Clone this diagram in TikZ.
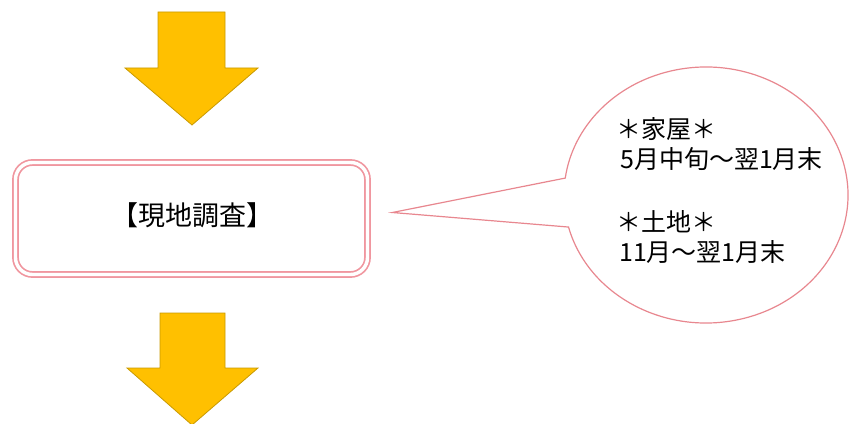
\documentclass[tikz,border=0pt]{standalone}
\usepackage{fontspec}
\setmainfont{Noto Sans CJK JP}
\usetikzlibrary{calc}
\definecolor{arrowfill}{HTML}{FFC000}
\definecolor{arrowline}{HTML}{C99A00}
\definecolor{boxpink}{HTML}{F0969F}
\definecolor{calloutpink}{HTML}{E8878F}
\tikzset{
  bigarrow/.style={fill=arrowfill, draw=arrowline, line width=0.8pt, line join=miter},
  stagebox/.style={draw=boxpink, double=white, double distance=3.4pt, line width=1.7pt,
    rounded corners=17pt, minimum width=352pt, minimum height=112pt, inner sep=0pt},
  callout/.style={draw=calloutpink, fill=white, line width=1.2pt, line join=miter},
  calltext/.style={inner sep=0pt, anchor=base west, font=\fontsize{25pt}{30pt}\selectfont}
}
\begin{document}
\begin{tikzpicture}[x=1pt,y=1pt]
\useasboundingbox (0,0) rectangle (850,423);
\clip (0,0) rectangle (850,423);
% top arrow
\draw[bigarrow] (158,411) -- (225,411) -- (225,355) -- (258,355) -- (192,298) -- (125,355) -- (158,355) -- cycle;
% bottom arrow
\draw[bigarrow] (160,110) -- (225,110) -- (225,55) -- (258,55) -- (192,-2) -- (127,55) -- (160,55) -- cycle;
% main box
\node[stagebox] (box) at (191.5,204.5) {};
\node[inner sep=0pt, font=\fontsize{27pt}{30pt}\selectfont] (boxtext) at (192,208) {【現地調査】};
% callout
\coordinate (cc) at (706,228);
\coordinate (tip) at ($(box.east)+(24,6)$);
\draw[callout] ($(cc)+(194.5:142 and 128)$) arc[start angle=194.5, end angle=532.4, x radius=142, y radius=128] -- (tip) -- cycle;
\node[calltext] (l1) at (616,284) {＊家屋＊};
\node[calltext] (l2) at (620,254) {5月中旬～翌1月末};
\node[calltext] (l3) at (616,191) {＊土地＊};
\node[calltext] (l4) at (619,161) {11月～翌1月末};
\end{tikzpicture}
\end{document}
